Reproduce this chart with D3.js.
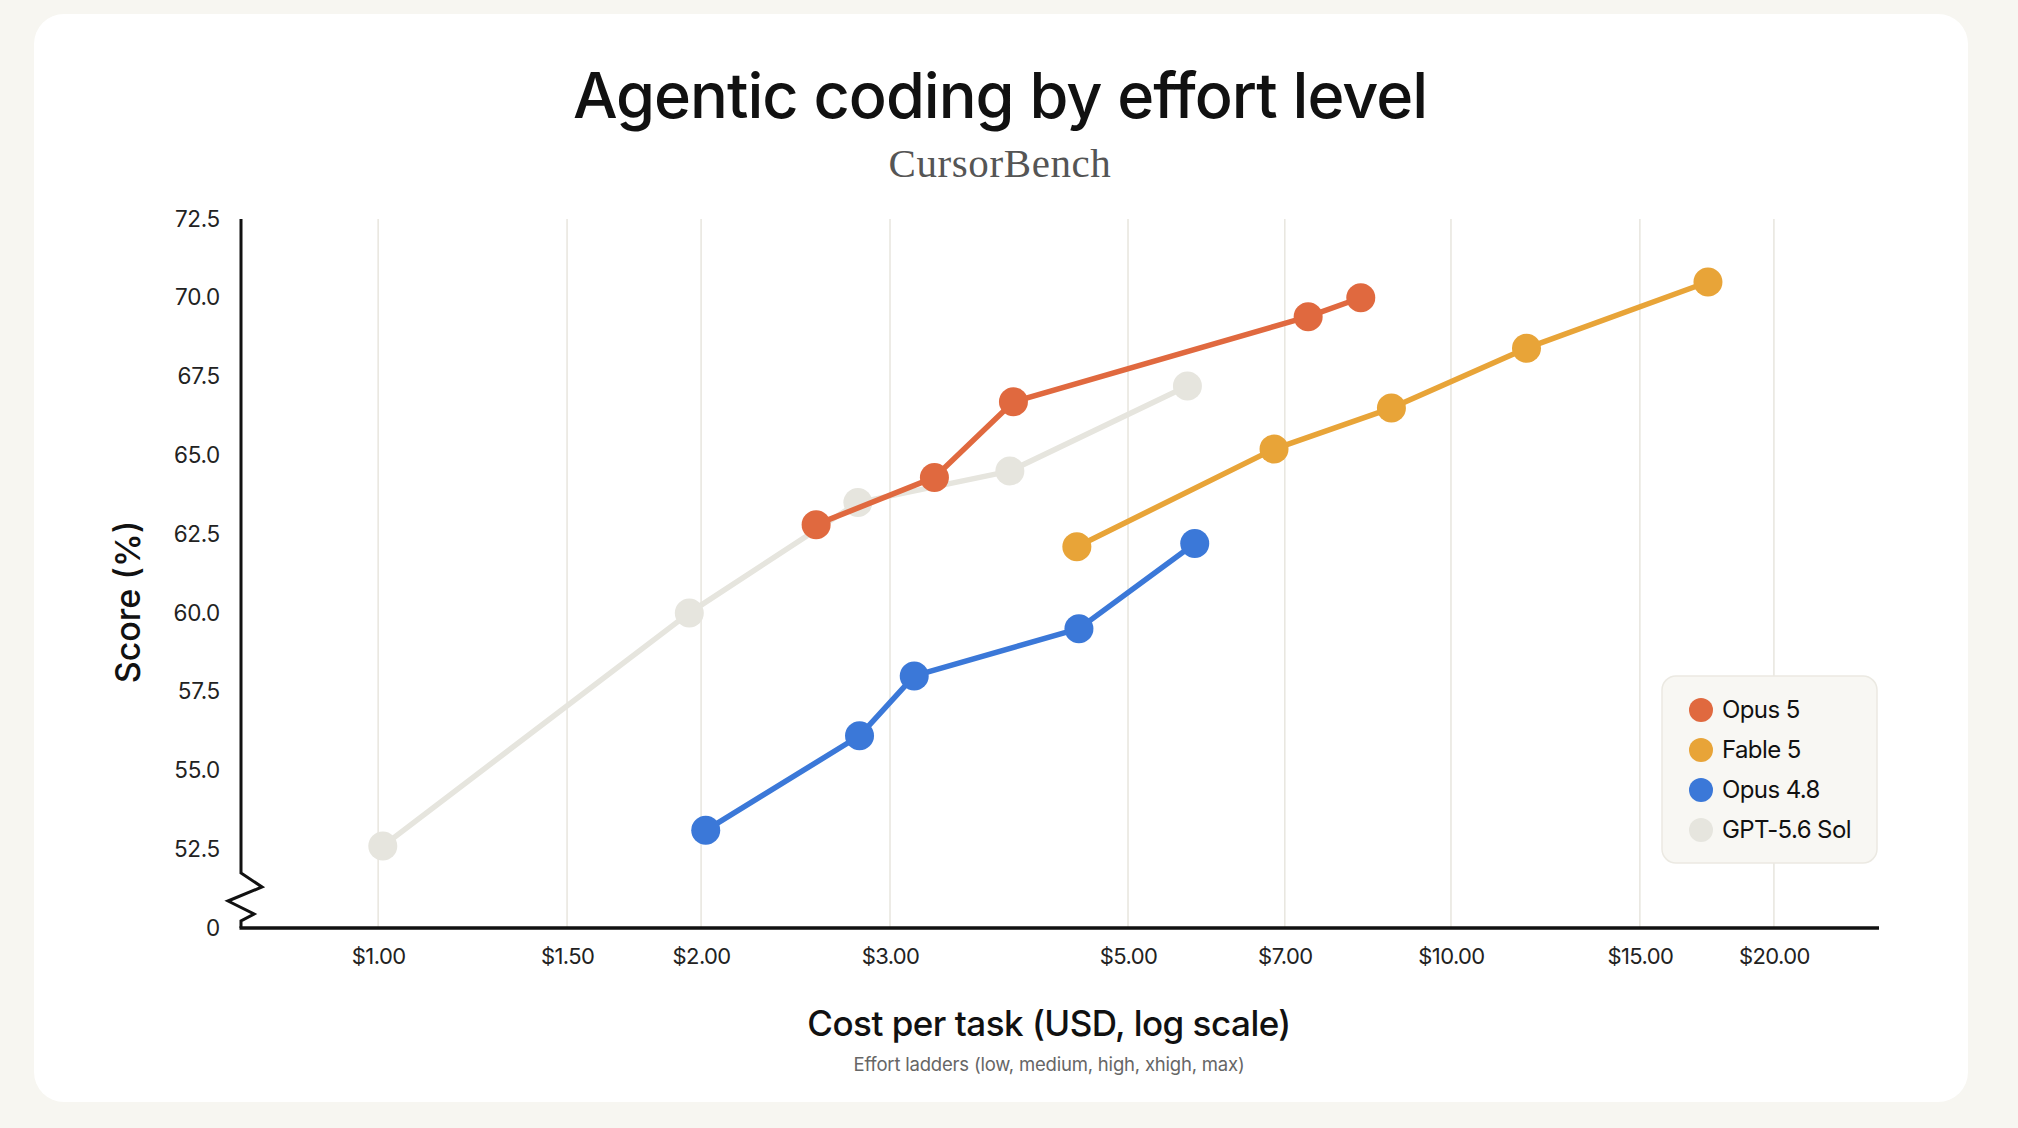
<!DOCTYPE html>
<html>
<head>
<meta charset="utf-8">
<script src="https://cdn.jsdelivr.net/npm/d3@7"></script>
<style>
  html, body { margin: 0; padding: 0; background: #f7f6f1; }
  svg { display: block; }
</style>
</head>
<body>
<svg id="chart" width="2018" height="1128"></svg>
<script>
// ---------- data ----------
const seriesNames = ["Opus 5", "Fable 5", "Opus 4.8", "GPT-5.6 Sol"];
const seriesColors = ["#e0693f", "#e8a438", "#3b78d8", "#e6e5de"];

const opus5Cost   = [2.56, 3.30, 3.91, 7.36, 8.24];
const opus5Score  = [62.8, 64.3, 66.7, 69.4, 70.0];
const fable5Cost  = [4.48, 6.84, 8.80, 11.76, 17.36];
const fable5Score = [62.1, 65.2, 66.5, 68.4, 70.5];
const opus48Cost  = [2.02, 2.81, 3.16, 4.50, 5.77];
const opus48Score = [53.1, 56.1, 58.0, 59.5, 62.2];
const gptCost     = [1.01, 1.95, 2.80, 3.88, 5.68];
const gptScore    = [52.6, 60.0, 63.5, 64.5, 67.2];

const costTicks  = [1, 1.5, 2, 3, 5, 7, 10, 15, 20];
const costTickLabels = ["$1.00", "$1.50", "$2.00", "$3.00", "$5.00", "$7.00", "$10.00", "$15.00", "$20.00"];
const scoreTicks = [50, 52.5, 55, 57.5, 60, 62.5, 65, 67.5, 70, 72.5];
const scoreTickLabels = ["0", "52.5", "55.0", "57.5", "60.0", "62.5", "65.0", "67.5", "70.0", "72.5"];

const titleText = "Agentic coding by effort level";
const subtitleText = "CursorBench";
const xTitleText = "Cost per task (USD, log scale)";
const yTitleText = "Score (%)";
const noteText = "Effort ladders (low, medium, high, xhigh, max)";

// ---------- build ----------
const series = [
  { name: seriesNames[3], color: seriesColors[3], cost: gptCost, score: gptScore },
  { name: seriesNames[2], color: seriesColors[2], cost: opus48Cost, score: opus48Score },
  { name: seriesNames[1], color: seriesColors[1], cost: fable5Cost, score: fable5Score },
  { name: seriesNames[0], color: seriesColors[0], cost: opus5Cost, score: opus5Score },
];

const sans = "Inter, 'Noto Sans', sans-serif";
const svg = d3.select("#chart");

// card
svg.append("rect").attr("x", 34).attr("y", 14).attr("width", 1934).attr("height", 1088)
  .attr("rx", 30).attr("fill", "#ffffff");

const plot = { left: 241, right: 1879, top: 219, bottom: 928 };

const x = d3.scaleLog().domain([0.745, 25.06]).range([plot.left, plot.right]);
const y = d3.scaleLinear().domain([50, 72.5]).range([plot.bottom, plot.top]);

// title
svg.append("text").attr("x", 1000).attr("y", 118).attr("text-anchor", "middle")
  .attr("font-family", sans).attr("font-weight", 500).attr("font-size", 63)
  .attr("letter-spacing", -1.0).attr("fill", "#111").text(titleText);
svg.append("text").attr("x", 1000).attr("y", 177).attr("text-anchor", "middle")
  .attr("font-family", "'Liberation Serif', 'DejaVu Serif', serif").attr("font-size", 41)
  .attr("letter-spacing", 0.6).attr("fill", "#555").text(subtitleText);

// grid
svg.append("g").selectAll("line").data(costTicks).join("line")
  .attr("x1", d => x(d)).attr("x2", d => x(d))
  .attr("y1", plot.top).attr("y2", plot.bottom)
  .attr("stroke", "#e9e7e0").attr("stroke-width", 1.6);

// x axis
const xAxis = d3.axisBottom(x).tickValues(costTicks)
  .tickFormat((d, i) => costTickLabels[i]).tickSize(0).tickPadding(20);
const gx = svg.append("g").attr("transform", `translate(0,${plot.bottom})`).call(xAxis);
gx.select(".domain").remove();
gx.selectAll("text").attr("font-family", sans).attr("font-size", 22).attr("fill", "#222")
  .attr("letter-spacing", -0.6);

// y axis
const yAxis = d3.axisLeft(y).tickValues(scoreTicks)
  .tickFormat((d, i) => scoreTickLabels[i]).tickSize(0).tickPadding(21);
const gy = svg.append("g").attr("transform", `translate(${plot.left},0)`).call(yAxis);
gy.select(".domain").remove();
gy.selectAll("text").attr("font-family", sans).attr("font-size", 22.5).attr("fill", "#222")
  .attr("letter-spacing", -0.3);

// axis lines with break
const ax = plot.left;
const breakPath = d3.path();
breakPath.moveTo(ax, plot.top);
breakPath.lineTo(ax, 873);
breakPath.lineTo(ax + 21, 887);
breakPath.lineTo(ax - 13, 901);
breakPath.lineTo(ax + 13, 914);
breakPath.lineTo(ax, 921);
breakPath.lineTo(ax, plot.bottom);
svg.append("path").attr("d", breakPath.toString()).attr("fill", "none")
  .attr("stroke", "#111").attr("stroke-width", 3).attr("stroke-linejoin", "miter");
svg.append("line").attr("x1", ax - 1.5).attr("x2", plot.right)
  .attr("y1", plot.bottom).attr("y2", plot.bottom)
  .attr("stroke", "#111").attr("stroke-width", 3.5);

// axis titles
svg.append("text").attr("x", 1049).attr("y", 1036).attr("text-anchor", "middle")
  .attr("font-family", sans).attr("font-weight", 500).attr("font-size", 35)
  .attr("letter-spacing", -0.5).attr("fill", "#111").text(xTitleText);
svg.append("text").attr("x", 1049).attr("y", 1071).attr("text-anchor", "middle")
  .attr("font-family", sans).attr("font-size", 18.5).attr("fill", "#666")
  .attr("letter-spacing", -0.2).text(noteText);
svg.append("text").attr("transform", "translate(140,602) rotate(-90)").attr("text-anchor", "middle")
  .attr("font-family", sans).attr("font-weight", 500).attr("font-size", 34)
  .attr("fill", "#111").text(yTitleText);

// series
const line = d3.line().x(d => x(d[0])).y(d => y(d[1]));
series.forEach(s => {
  const pts = s.cost.map((c, i) => [c, s.score[i]]);
  const g = svg.append("g");
  g.append("path").attr("d", line(pts)).attr("fill", "none")
    .attr("stroke", s.color).attr("stroke-width", 5.5).attr("stroke-linejoin", "round");
  g.selectAll("circle").data(pts).join("circle")
    .attr("cx", d => x(d[0])).attr("cy", d => y(d[1])).attr("r", 14.5)
    .attr("fill", s.color);
});

// legend
const lg = svg.append("g");
lg.append("rect").attr("x", 1662).attr("y", 676).attr("width", 215).attr("height", 187)
  .attr("rx", 14).attr("fill", "#f8f7f3").attr("stroke", "#ebe9e2").attr("stroke-width", 1.5);
seriesNames.forEach((n, i) => {
  const cy = 710 + i * 40;
  lg.append("circle").attr("cx", 1701).attr("cy", cy).attr("r", 12).attr("fill", seriesColors[i]);
  lg.append("text").attr("x", 1722).attr("y", cy).attr("dy", "0.35em")
    .attr("font-family", sans).attr("font-size", 24).attr("letter-spacing", -0.6)
    .attr("fill", "#111").text(n);
});
</script>
</body>
</html>
